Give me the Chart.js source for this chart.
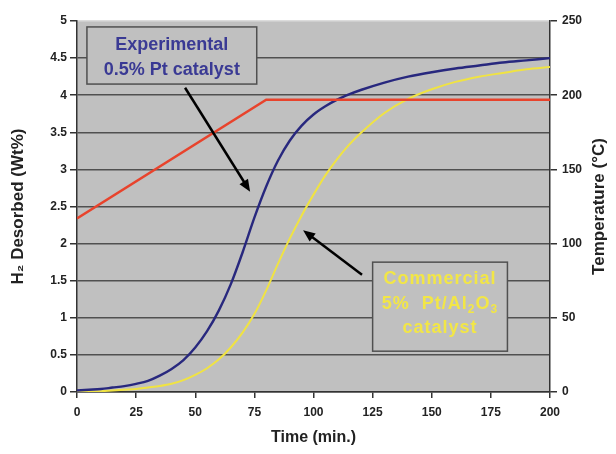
<!DOCTYPE html>
<html>
<head>
<meta charset="utf-8">
<script src="https://cdn.jsdelivr.net/npm/chart.js@4.4.1/dist/chart.umd.min.js"></script>
<style>
  html, body { margin: 0; padding: 0; background: #fff; }
  #wrap { width: 616px; height: 454px; }
</style>
</head>
<body>
<div id="wrap"><canvas id="chart" width="616" height="454"></canvas></div>
<script>
// time axis (min.)
const timeMin = [0, 5, 10, 15, 20, 25, 30, 35, 40, 45, 50, 55, 60, 65, 70, 75, 80, 85, 90, 95, 100,
                 105, 110, 115, 120, 130, 140, 150, 160, 170, 180, 190, 200];
// H2 desorbed (wt%)
const experimental = [0.02, 0.03, 0.04, 0.06, 0.08, 0.11, 0.15, 0.22, 0.31, 0.43, 0.6, 0.82, 1.1, 1.45, 1.88, 2.35, 2.77,
                      3.12, 3.39, 3.59, 3.74, 3.85, 3.94, 4.01, 4.07, 4.17, 4.25, 4.31, 4.36, 4.4, 4.44, 4.47, 4.5];
const commercial = [0.0, 0.0, 0.01, 0.02, 0.03, 0.04, 0.06, 0.08, 0.11, 0.16, 0.23, 0.32, 0.44, 0.6, 0.8, 1.05, 1.37,
                    1.73, 2.07, 2.38, 2.66, 2.92, 3.14, 3.33, 3.49, 3.76, 3.95, 4.08, 4.18, 4.25, 4.3, 4.35, 4.38];
// temperature program (°C)
const tempTime = [0, 80, 200];
const tempVals = [117, 197, 197];

const xTicks = { min: 0, max: 200, step: 25 };
const yTicks = { min: 0, max: 5, step: 0.5 };
const y1Ticks = { min: 0, max: 250, step: 50 };

const toXY = (xs, ys) => xs.map((x, i) => ({ x: x, y: ys[i] }));

const FONT = "'Liberation Sans', Arial, sans-serif";

// grey plot background
const plotBg = {
    id: 'plotBg',
    beforeDraw(chart) {
        const { ctx, chartArea: a } = chart;
        ctx.save();
        ctx.fillStyle = '#c0c0c0';
        ctx.fillRect(a.left, a.top, a.right - a.left, a.bottom - a.top);
        ctx.restore();
    }
};

// right axis title reads bottom-to-top like the left one
const rightTitle = {
    id: 'rightTitle',
    afterDraw(chart) {
        const { ctx, chartArea: a } = chart;
        ctx.save();
        ctx.translate(599, (a.top + a.bottom) / 2);
        ctx.rotate(-Math.PI / 2);
        ctx.font = 'bold 17px ' + FONT;
        ctx.fillStyle = '#222';
        ctx.textAlign = 'center';
        ctx.textBaseline = 'middle';
        ctx.fillText('Temperature (°C)', 0, 0);
        ctx.restore();
    }
};

// boxes and arrows, placed in data coordinates
const notes = {
    id: 'notes',
    afterDatasetsDraw(chart) {
        const { ctx, scales: { x, y } } = chart;
        const px = v => x.getPixelForValue(v);
        const py = v => y.getPixelForValue(v);

        function box(x0, y0, x1, y1) {
            const l = px(x0), t = py(y0), r = px(x1), b = py(y1);
            ctx.fillStyle = '#c0c0c0';
            ctx.fillRect(l, t, r - l, b - t);
            ctx.strokeStyle = '#505050';
            ctx.lineWidth = 1.5;
            ctx.strokeRect(l, t, r - l, b - t);
            return { cx: (l + r) / 2, t: t };
        }

        function arrow(x0, y0, x1, y1) {
            const ax = px(x0), ay = py(y0), bx = px(x1), by = py(y1);
            const ang = Math.atan2(by - ay, bx - ax);
            const hl = 12, hw = 5;
            ctx.strokeStyle = '#000';
            ctx.fillStyle = '#000';
            ctx.lineWidth = 2.5;
            ctx.beginPath();
            ctx.moveTo(ax, ay);
            ctx.lineTo(bx - Math.cos(ang) * hl * 0.8, by - Math.sin(ang) * hl * 0.8);
            ctx.stroke();
            ctx.beginPath();
            ctx.moveTo(bx, by);
            ctx.lineTo(bx - Math.cos(ang) * hl + Math.sin(ang) * hw, by - Math.sin(ang) * hl - Math.cos(ang) * hw);
            ctx.lineTo(bx - Math.cos(ang) * hl - Math.sin(ang) * hw, by - Math.sin(ang) * hl + Math.cos(ang) * hw);
            ctx.closePath();
            ctx.fill();
        }

        ctx.save();
        arrow(45.7, 4.1, 73.2, 2.7);
        arrow(120.5, 1.58, 95.6, 2.18);

        // Experimental box
        const b1 = box(4.2, 4.92, 76, 4.15);
        ctx.fillStyle = '#3a3a94';
        ctx.font = 'bold 18px ' + FONT;
        ctx.textAlign = 'center';
        ctx.textBaseline = 'middle';
        ctx.fillText('Experimental', b1.cx, b1.t + 18);
        ctx.fillText('0.5% Pt catalyst', b1.cx, b1.t + 43);

        // Commercial box
        const b2 = box(125, 1.75, 182, 0.55);
        ctx.fillStyle = '#f2e646';
        ctx.letterSpacing = '1px';
        ctx.fillText('Commercial', b2.cx, b2.t + 17);
        ctx.fillText('catalyst', b2.cx, b2.t + 66);
        // 5% Pt/Al2O3 with subscripts
        const parts = [['5%  Pt/Al', false], ['2', true], ['O', false], ['3', true]];
        const big = 'bold 18px ' + FONT, small = 'bold 12px ' + FONT;
        let w = 0;
        parts.forEach(p => { ctx.font = p[1] ? small : big; w += ctx.measureText(p[0]).width; });
        let cx = b2.cx - w / 2;
        const base = b2.t + 42;
        ctx.textAlign = 'left';
        parts.forEach(p => {
            ctx.font = p[1] ? small : big;
            ctx.fillText(p[0], cx, p[1] ? base + 6 : base);
            cx += ctx.measureText(p[0]).width;
        });
        ctx.restore();
    }
};

const tickFont = { family: FONT, size: 12, weight: 'bold' };

new Chart(document.getElementById('chart').getContext('2d'), {
    type: 'line',
    data: {
        datasets: [
            {
                label: 'Experimental 0.5% Pt catalyst',
                data: toXY(timeMin, experimental),
                yAxisID: 'y',
                borderColor: '#28287e',
                borderWidth: 2.4,
                pointRadius: 0,
                cubicInterpolationMode: 'monotone',
                order: 2,
            },
            {
                label: 'Commercial 5% Pt/Al2O3 catalyst',
                data: toXY(timeMin, commercial),
                yAxisID: 'y',
                borderColor: '#f0e342',
                borderWidth: 2,
                pointRadius: 0,
                cubicInterpolationMode: 'monotone',
                order: 3,
            },
            {
                label: 'Temperature',
                data: toXY(tempTime, tempVals),
                yAxisID: 'y1',
                borderColor: '#e8432c',
                borderWidth: 2.5,
                pointRadius: 0,
                tension: 0,
                order: 1,
            },
        ],
    },
    options: {
        responsive: false,
        animation: false,
        layout: { padding: { top: 21 } },
        plugins: {
            legend: { display: false },
            tooltip: { enabled: false },
        },
        scales: {
            x: {
                type: 'linear',
                min: xTicks.min,
                max: xTicks.max,
                afterFit: s => { s.height = 62; },
                ticks: { stepSize: xTicks.step, font: tickFont, color: '#222', padding: 7, maxRotation: 0 },
                grid: { drawOnChartArea: false, tickLength: 6, tickColor: '#333', lineWidth: 1.5 },
                border: { color: '#333', width: 1.5 },
                title: {
                    display: true,
                    text: 'Time (min.)',
                    font: { family: FONT, size: 16, weight: 'bold' },
                    color: '#222',
                    padding: { bottom: 7 },
                },
            },
            y: {
                position: 'left',
                min: yTicks.min,
                max: yTicks.max,
                afterFit: s => { s.width = 77; },
                ticks: { stepSize: yTicks.step, font: tickFont, color: '#222', padding: 3, callback: v => String(v) },
                grid: {
                    color: ctx => (ctx.tick && ctx.tick.value === 5 ? '#dcdcdc' : '#505050'),
                    lineWidth: 1.5,
                    tickLength: 7,
                    tickColor: '#333',
                },
                border: { color: '#333', width: 1.5 },
                title: {
                    display: true,
                    text: 'H\u2082 Desorbed (Wt%)',
                    font: { family: FONT, size: 17, weight: 'bold' },
                    color: '#222',
                    padding: { top: 8 },
                },
            },
            y1: {
                position: 'right',
                min: y1Ticks.min,
                max: y1Ticks.max,
                afterFit: s => { s.width = 66; },
                ticks: { stepSize: y1Ticks.step, font: tickFont, color: '#222', padding: 5 },
                grid: { drawOnChartArea: false, tickLength: 7, tickColor: '#333', lineWidth: 1.5 },
                border: { color: '#333', width: 1.5 },
                title: { display: false },
            },
        },
    },
    plugins: [plotBg, notes, rightTitle],
});
</script>
</body>
</html>
